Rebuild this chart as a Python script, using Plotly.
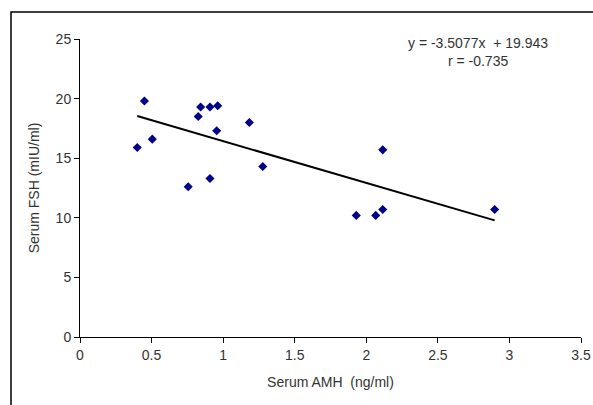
import plotly.graph_objects as go

amh = [0.40, 0.45, 0.505, 0.756, 0.826, 0.843, 0.908, 0.962, 0.955, 0.908, 1.183, 1.277,
       2.115, 1.93, 2.066, 2.115, 2.897]
fsh = [15.9, 19.8, 16.6, 12.6, 18.5, 19.3, 19.3, 19.4, 17.3, 13.3, 18.0, 14.3,
       15.7, 10.2, 10.2, 10.7, 10.7]
slope = -3.5077
intercept = 19.943
r_value = -0.735
x_ticks = [0, 0.5, 1, 1.5, 2, 2.5, 3, 3.5]
x_tick_labels = ["0", "0.5", "1", "1.5", "2", "2.5", "3", "3.5"]
y_ticks = [0, 5, 10, 15, 20, 25]

fit_x = [min(amh), max(amh)]
fit_y = [slope * v + intercept for v in fit_x]

font_family = "Liberation Sans, Arial, sans-serif"
tick_color = "#333333"

fig = go.Figure()
fig.add_trace(go.Scatter(x=fit_x, y=fit_y, mode="lines",
                         line=dict(color="black", width=2), showlegend=False))
fig.add_trace(go.Scatter(x=amh, y=fsh, mode="markers",
                         marker=dict(symbol="diamond", size=7, color="#00008B"),
                         showlegend=False))

fig.update_layout(
    width=593, height=405,
    margin=dict(l=80, r=12, t=39, b=68),
    paper_bgcolor="white", plot_bgcolor="white",
    font=dict(family=font_family, size=14, color=tick_color),
    xaxis=dict(range=[0, 3.5], tickvals=x_ticks, ticktext=x_tick_labels,
               showgrid=False, zeroline=False, showline=True, linecolor="black",
               linewidth=1, ticks="outside", ticklen=5, tickcolor="black",
               tickfont=dict(size=14, color=tick_color), automargin=False,
               title=dict(text="Serum AMH  (ng/ml)", font=dict(size=14, color=tick_color),
                          standoff=15)),
    yaxis=dict(range=[0, 25], tickvals=y_ticks,
               showgrid=False, zeroline=False, showline=True, linecolor="black",
               linewidth=1, ticks="outside", ticklen=5, tickcolor="black",
               tickfont=dict(size=14, color=tick_color), automargin=False,
               title=dict(text="Serum FSH (mIU/ml)", font=dict(size=14, color=tick_color),
                          standoff=12)),
    annotations=[
        dict(xref="paper", yref="paper", x=(478 - 80) / 501, y=(337 - 52) / 298,
             text=f"y = {slope}x  + {intercept}<br>r = {r_value}",
             showarrow=False, align="center", xanchor="center", yanchor="middle",
             font=dict(size=14, color=tick_color)),
    ],
    shapes=[
        dict(type="rect", xref="paper", yref="paper",
             x0=(11 - 80) / 501, x1=1.2, y0=-0.5, y1=(337 - 12) / 298,
             line=dict(color="black", width=1.5), layer="below"),
    ],
)

fig.write_html("out.html", config={"displayModeBar": False},
               post_script="document.body.style.margin='0';")
